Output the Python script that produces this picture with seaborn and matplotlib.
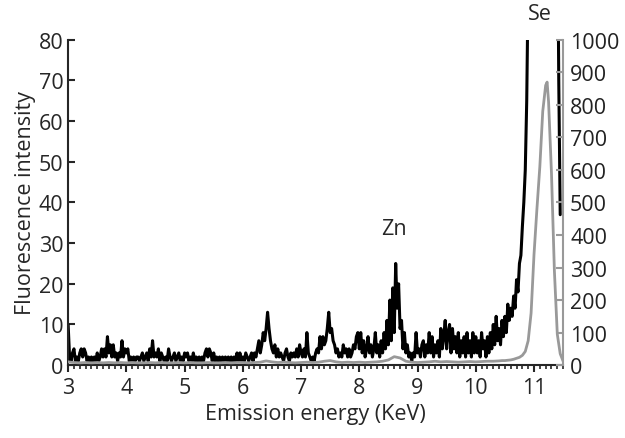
import numpy as np
import pandas as pd
import matplotlib
matplotlib.use('Agg')
import matplotlib.pyplot as plt
from matplotlib.ticker import MultipleLocator
import seaborn as sns

# black spectrum, one value every 0.025 KeV from 3.000 (left axis)
black_start = 3.0
black_step = 0.025
black_counts = [
    10, 2, 1, 3, 4, 1, 2, 1, 3, 4, 2, 4, 3, 1, 2, 1, 2, 1, 2, 1,
    3, 1, 2, 4, 2, 4, 2, 7, 3, 5, 2, 5, 2, 3, 1, 3, 2, 6, 2, 4,
    3, 4, 1, 2, 1, 2, 1, 2, 2, 1, 2, 3, 1, 2, 3, 1, 4, 2, 6, 2,
    3, 2, 4, 1, 3, 2, 1, 2, 1, 4, 2, 1, 2, 3, 1, 2, 3, 1, 2, 1,
    3, 2, 3, 1, 2, 1, 3, 1, 2, 1, 2, 1, 2, 1, 3, 4, 2, 4, 3, 1,
    3, 1, 2, 1, 2, 1, 2, 1, 2, 1, 2, 1, 2, 1, 2, 1, 3, 1, 3, 1,
    2, 1, 3, 2, 1, 2, 3, 1, 3, 2, 4, 6, 3, 5, 8, 6, 9, 13, 9, 6,
    4, 3, 5, 2, 4, 2, 3, 2, 1, 3, 4, 2, 1, 3, 2, 3, 2, 4, 2, 5,
    3, 2, 4, 2, 8, 3, 2, 1, 2, 1, 3, 4, 3, 7, 4, 7, 5, 6, 9, 13,
    8, 9, 6, 5, 3, 4, 2, 3, 2, 5, 3, 4, 2, 4, 2, 3, 5, 4, 7, 8,
    4, 8, 3, 6, 2, 4, 7, 3, 5, 2, 4, 8, 3, 5, 2, 6, 3, 8, 4, 11,
    5, 16, 6, 19, 8, 25, 14, 20, 9, 11, 4, 8, 3, 5, 2, 3, 1, 3, 2, 8,
    3, 4, 2, 5, 6, 2, 5, 3, 8, 3, 7, 2, 5, 3, 6, 2, 9, 4, 7, 11,
    4, 8, 10, 3, 9, 4, 7, 3, 8, 2, 6, 3, 7, 2, 8, 3, 6, 2, 8, 3,
    7, 3, 6, 2, 8, 4, 6, 2, 7, 3, 8, 4, 10, 5, 12, 6, 9, 5, 11, 7,
    12, 8, 15, 11, 14, 12, 17, 14, 21, 18, 25, 27, 34, 40, 48, 65, 95, 140, 200, 280,
    380, 480, 560, 650, 700, 740, 760, 750, 700, 620, 540, 460, 380, 300, 230, 170, 120, 70, 37,
]
black_energy = np.round(black_start + black_step * np.arange(len(black_counts)), 3)

# grey spectrum (right axis)
grey_energy = [
    3.0, 3.1, 3.2, 3.3, 3.4, 3.5, 3.6, 3.7, 3.8, 3.9,
    4.0, 4.1, 4.2, 4.3, 4.4, 4.5, 4.6, 4.7, 4.8, 4.9,
    5.0, 5.1, 5.2, 5.3, 5.4, 5.5, 5.6, 5.7, 5.8, 5.9,
    6.0, 6.1, 6.2, 6.3, 6.4, 6.5, 6.6, 6.7, 6.8, 6.9,
    7.0, 7.1, 7.2, 7.3, 7.4, 7.5, 7.6, 7.7, 7.8, 7.9,
    8.0, 8.1, 8.2, 8.3, 8.4, 8.5, 8.6, 8.7, 8.8, 8.9,
    9.0, 9.1, 9.2, 9.3, 9.4, 9.5, 9.6, 9.7, 9.8, 9.9,
    10.0, 10.1, 10.2, 10.3, 10.4, 10.45, 10.5, 10.55, 10.6, 10.65,
    10.7, 10.75, 10.8, 10.85, 10.9, 10.95, 11.0, 11.05, 11.1, 11.15,
    11.2, 11.225, 11.25, 11.3, 11.35, 11.4, 11.45, 11.5,
]
grey_counts = [
    10, 8, 7, 8, 7, 8, 7, 8, 7, 8,
    7, 8, 7, 7, 8, 7, 8, 7, 7, 8,
    7, 8, 7, 7, 8, 7, 7, 8, 7, 8,
    8, 7, 8, 9, 13, 10, 8, 9, 8, 7,
    8, 9, 8, 9, 12, 14, 10, 8, 9, 8,
    9, 8, 9, 10, 12, 16, 26, 22, 12, 9,
    8, 9, 10, 12, 10, 11, 10, 9, 10, 11,
    10, 11, 12, 12, 13, 14, 14, 15, 16, 18,
    21, 24, 30, 42, 75, 160, 340, 480, 610, 780,
    860, 870, 810, 590, 290, 95, 35, 12,
]

df_black = pd.DataFrame({'energy': black_energy, 'counts': black_counts})
df_grey = pd.DataFrame({'energy': grey_energy, 'counts': grey_counts})

sns.set_style('ticks')
plt.rcParams['font.family'] = ['Open Sans', 'DejaVu Sans']

fig = plt.figure(figsize=(6.25, 4.39), dpi=100)
ax = fig.add_axes([0.109, 0.166, 0.792, 0.741])
ax2 = ax.twinx()

sns.lineplot(data=df_black, x='energy', y='counts', ax=ax, color='black', lw=2.2)
sns.lineplot(data=df_grey, x='energy', y='counts', ax=ax2, color='#999999', lw=2)

ax.set_xlim(3, 11.5)
ax.set_ylim(0, 80)
ax2.set_ylim(0, 1000)
ax.set_yticks(range(0, 81, 10))
ax2.set_yticks(range(0, 1001, 100))
ax.xaxis.set_major_locator(MultipleLocator(1))
ax.xaxis.set_minor_locator(MultipleLocator(0.1))

for a in (ax, ax2):
    a.spines['top'].set_visible(False)
    for s in a.spines.values():
        s.set_linewidth(1.5)
ax.spines['right'].set_visible(False)
ax2.spines['left'].set_visible(False)
ax2.spines['bottom'].set_visible(False)
ax2.spines['right'].set_color('#999999')

ax.tick_params(axis='x', which='major', direction='out', length=5, width=1.5, labelsize=15.5)
ax.tick_params(axis='x', which='minor', direction='out', length=3, width=1.2)
ax.tick_params(axis='y', direction='in', length=5, width=1.5, labelsize=15.5)
ax2.tick_params(axis='y', direction='in', length=5, width=1.5, color='#999999',
                labelsize=15.5, labelcolor='#222222', pad=5)

ax.set_xlabel('Emission energy (KeV)', fontsize=15.5)
ax.set_ylabel('Fluorescence intensity', fontsize=15.5, labelpad=2)
ax2.set_ylabel('')

ax.text(8.6, 31, 'Zn', fontsize=15.5, ha='center', va='bottom')
ax.text(11.1, 84, 'Se', fontsize=15.5, ha='center', va='bottom', clip_on=False)

fig.savefig('out.png', dpi=100)
